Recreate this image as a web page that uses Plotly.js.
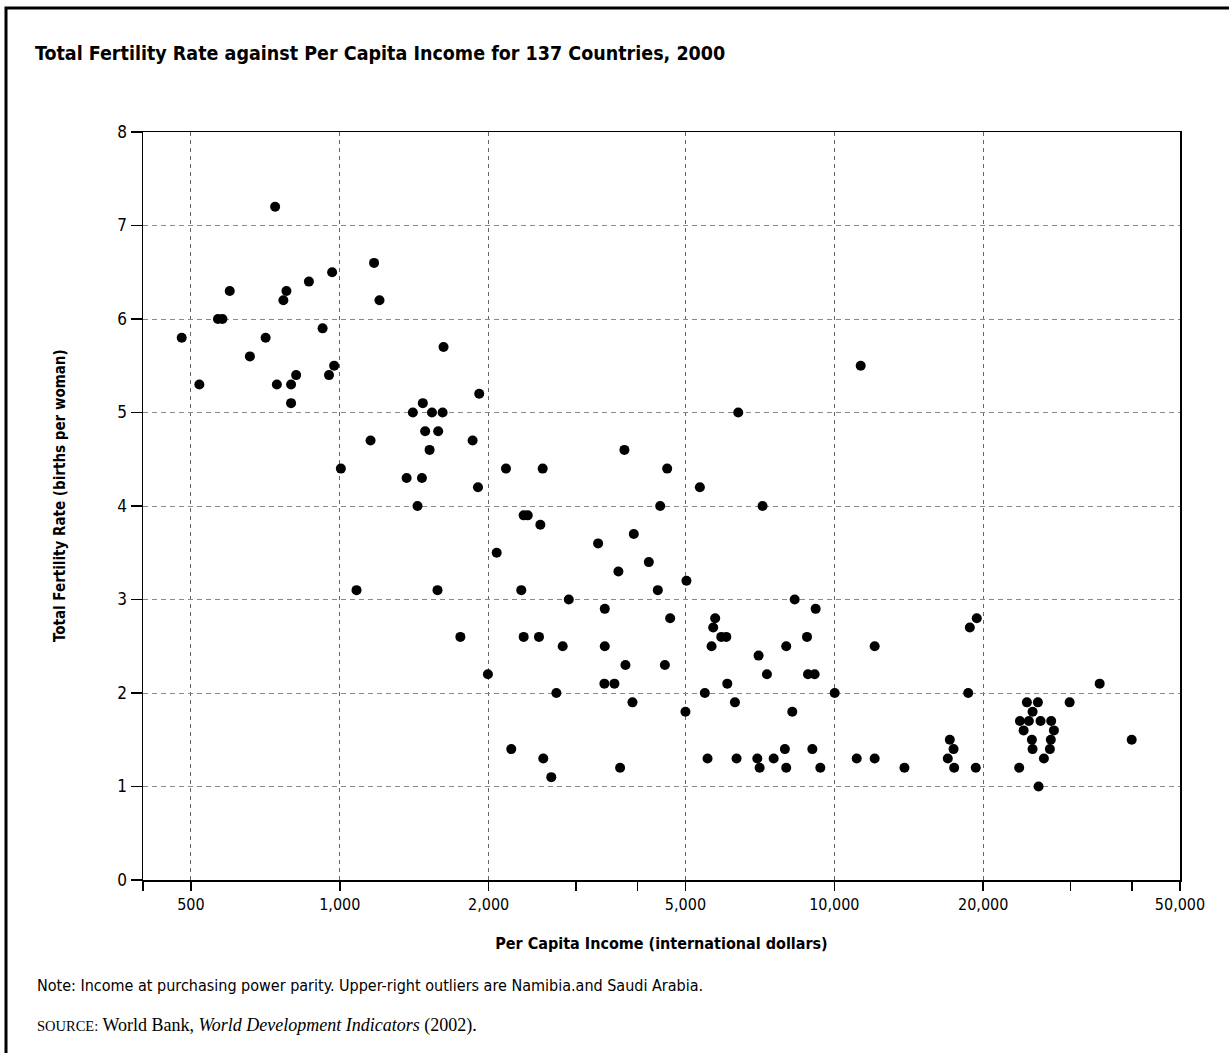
<!DOCTYPE html>
<html>
<head>
<meta charset="utf-8">
<script src="https://cdn.plot.ly/plotly-3.0.1.min.js"></script>
<style>
  html, body { margin: 0; padding: 0; background: #ffffff; }
  #chart { width: 1229px; height: 1053px; }
</style>
</head>
<body>
<div id="chart"></div>
<script>
// Per capita income (international dollars, PPP), 2000
const income = [
  740, 1173, 965, 866, 599, 780, 769, 1203, 567, 579,
  923, 479, 708, 1621, 658, 974, 951, 816, 520, 746,
  797, 797, 1914, 1472, 1405, 1536, 1614, 1488, 1581, 1154,
  1856, 1519, 1005, 1365, 1466, 1903, 1436, 1081, 1576, 1753,
  1993, 2168, 2572, 3763, 4592, 4445, 2354, 2399, 2544, 3931,
  3329, 2076, 4216, 3659, 5023, 2328, 4396, 2904, 3434, 4656,
  2354, 2528, 2823, 3434, 3781, 4543, 3428, 3592, 2741, 3907,
  5000, 2222, 2579, 2677, 3688, 6393, 5347, 7159, 8314, 9167,
  5742, 5689, 5907, 6047, 8805, 5646, 7993, 7028, 7307, 8846,
  9124, 6075, 5472, 10016, 6295, 8222, 7943, 9027, 5541, 6343,
  6986, 7539, 7063, 7993, 9369, 11306, 12066, 11098, 12066, 13860,
  17120, 17420, 16960, 17470, 18793, 19410, 18650, 19320, 24510, 25800,
  25170, 23730, 24740, 26120, 27450, 24140, 27800, 25090, 27400, 25170,
  27280, 26530, 23650, 25880, 29910, 34400, 39930
];
// Total fertility rate (births per woman), 2000
const fertility = [
  7.2, 6.6, 6.5, 6.4, 6.3, 6.3, 6.2, 6.2, 6.0, 6.0,
  5.9, 5.8, 5.8, 5.7, 5.6, 5.5, 5.4, 5.4, 5.3, 5.3,
  5.3, 5.1, 5.2, 5.1, 5.0, 5.0, 5.0, 4.8, 4.8, 4.7,
  4.7, 4.6, 4.4, 4.3, 4.3, 4.2, 4.0, 3.1, 3.1, 2.6,
  2.2, 4.4, 4.4, 4.6, 4.4, 4.0, 3.9, 3.9, 3.8, 3.7,
  3.6, 3.5, 3.4, 3.3, 3.2, 3.1, 3.1, 3.0, 2.9, 2.8,
  2.6, 2.6, 2.5, 2.5, 2.3, 2.3, 2.1, 2.1, 2.0, 1.9,
  1.8, 1.4, 1.3, 1.1, 1.2, 5.0, 4.2, 4.0, 3.0, 2.9,
  2.8, 2.7, 2.6, 2.6, 2.6, 2.5, 2.5, 2.4, 2.2, 2.2,
  2.2, 2.1, 2.0, 2.0, 1.9, 1.8, 1.4, 1.4, 1.3, 1.3,
  1.3, 1.3, 1.2, 1.2, 1.2, 5.5, 2.5, 1.3, 1.3, 1.2,
  1.5, 1.4, 1.3, 1.2, 2.7, 2.8, 2.0, 1.2, 1.9, 1.9,
  1.8, 1.7, 1.7, 1.7, 1.7, 1.6, 1.6, 1.5, 1.5, 1.4,
  1.4, 1.3, 1.2, 1.0, 1.9, 2.1, 1.5
];

const xTickVals = [500, 1000, 2000, 5000, 10000, 20000, 50000];
const xTickText = ['500', '1,000', '2,000', '5,000', '10,000', '20,000', '50,000'];
const xMinorTicks = [400, 3000, 4000, 30000, 40000];
const yTickVals = [0, 1, 2, 3, 4, 5, 6, 7, 8];

const titleText = 'Total Fertility Rate against Per Capita Income for 137 Countries, 2000';
const xTitle = 'Per Capita Income (international dollars)';
const yTitle = 'Total Fertility Rate (births per woman)';
const noteText = 'Note: Income at purchasing power parity. Upper-right outliers are Namibia.and Saudi Arabia.';
const sourceText = '<span style="font-size:14.5px">SOURCE:</span> World Bank, <i>World Development Indicators</i> (2002).';

const NARROW = "'Liberation Sans Narrow', 'Arial Narrow', 'DejaVu Sans Condensed', 'Roboto Condensed', sans-serif";
const SERIF = "'Liberation Serif', 'Times New Roman', serif";

const trace = {
  type: 'scatter',
  mode: 'markers',
  x: income,
  y: fertility,
  marker: { color: '#000000', size: 10, line: { width: 0 } },
  hoverinfo: 'x+y'
};

const layout = {
  width: 1229,
  height: 1053,
  paper_bgcolor: '#ffffff',
  plot_bgcolor: '#ffffff',
  margin: { l: 143, r: 49, t: 132, b: 173, pad: 0 },
  showlegend: false,
  font: { family: NARROW, color: '#000000', size: 16 },
  title: {
    text: titleText,
    font: { family: NARROW, size: 19.5, weight: 'bold', color: '#000000' },
    xref: 'container', yref: 'container',
    x: 35 / 1229, xanchor: 'left',
    y: 1 - 53 / 1053, yanchor: 'middle'
  },
  xaxis: {
    type: 'log',
    range: [Math.log10(400), Math.log10(50000)],
    tickmode: 'array',
    tickvals: xTickVals,
    ticktext: xTickText,
    ticks: 'outside',
    ticklen: 9,
    tickwidth: 1.5,
    tickcolor: '#000000',
    tickfont: { family: NARROW, size: 16, color: '#000000' },
    showline: true,
    linecolor: '#000000',
    linewidth: 1.5,
    mirror: true,
    showgrid: true,
    gridcolor: '#666666',
    gridwidth: 1,
    griddash: '4px,4px',
    zeroline: false,
    minor: {
      tickmode: 'array',
      tickvals: xMinorTicks,
      ticks: 'outside',
      ticklen: 9,
      tickwidth: 1.5,
      tickcolor: '#000000',
      showgrid: false
    },
    title: {
      text: xTitle,
      font: { family: NARROW, size: 16, weight: 'bold', color: '#000000' },
      standoff: 25
    }
  },
  yaxis: {
    range: [0, 8],
    tickmode: 'array',
    tickvals: yTickVals,
    ticks: 'outside',
    ticklen: 11,
    tickwidth: 1.5,
    tickcolor: '#000000',
    tickfont: { family: NARROW, size: 17, color: '#000000' },
    showline: true,
    linecolor: '#000000',
    linewidth: 1.5,
    mirror: true,
    showgrid: true,
    gridcolor: '#8a8a8a',
    gridwidth: 1,
    griddash: '5px,4px',
    zeroline: false
  },
  shapes: [
    {
      type: 'rect', xref: 'paper', yref: 'paper',
      x0: (6 - 143) / 1037, x1: 1.1,
      y0: -0.3, y1: (880 - 8) / 748,
      line: { color: '#000000', width: 3 },
      fillcolor: 'rgba(0,0,0,0)',
      layer: 'below'
    }
  ],
  annotations: [
    {
      text: '<b>' + yTitle + '</b>',
      xref: 'paper', yref: 'paper',
      x: (60 - 143) / 1037, y: (880 - 496) / 748,
      xanchor: 'center', yanchor: 'middle',
      textangle: -90,
      showarrow: false,
      font: { family: NARROW, size: 15, color: '#000000' }
    },
    {
      text: noteText,
      xref: 'paper', yref: 'paper',
      x: (35 - 143) / 1037, y: (880 - 985) / 748,
      xanchor: 'left', yanchor: 'middle',
      showarrow: false,
      font: { family: NARROW, size: 16, color: '#000000' }
    },
    {
      text: sourceText,
      xref: 'paper', yref: 'paper',
      x: (35 - 143) / 1037, y: (880 - 1025) / 748,
      xanchor: 'left', yanchor: 'middle',
      showarrow: false,
      font: { family: SERIF, size: 18, color: '#000000' }
    }
  ]
};

Plotly.newPlot('chart', [trace], layout, { displayModeBar: false, staticPlot: true });
</script>
</body>
</html>
